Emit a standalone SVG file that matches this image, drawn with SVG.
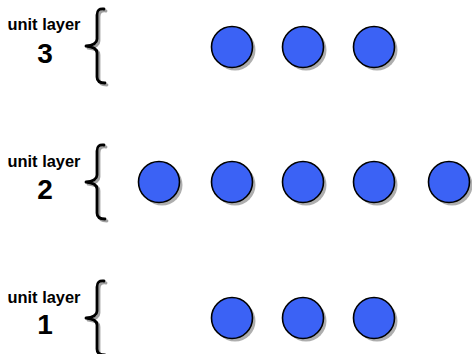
<svg xmlns="http://www.w3.org/2000/svg" xmlns:xlink="http://www.w3.org/1999/xlink" width="472" height="354" viewBox="0 0 472 354">
<style>
.lbl{font-family:"Liberation Sans",Arial,sans-serif;font-weight:bold;fill:#000;text-anchor:middle}
.t{font-size:16.5px}
.n{font-size:28px}
.br{fill:none;stroke:#000;stroke-width:2.8;stroke-linecap:round;stroke-linejoin:round}
.brs{fill:none;stroke:#a0a0a0;stroke-width:2.8;stroke-linecap:round;stroke-linejoin:round}
.c{fill:#3b62f5;stroke:#000;stroke-width:1.6}
.cs{fill:#9a9a9a;opacity:0.8}
</style>
<defs>
<path id="brace" d="M104,-37 Q97,-38 97,-31 L97,-7 Q97,-1 86,0 Q97,1 97,7 L97,31 Q97,37 105,37"/>
<g id="unit">
<circle class="cs" cx="3" cy="3" r="20.5"/>
<circle class="c" cx="0" cy="0" r="20.5"/>
</g>
</defs>
<g id="layer3">
<text class="lbl t" x="44" y="30" textLength="73" lengthAdjust="spacingAndGlyphs">unit layer</text>
<text class="lbl n" x="45" y="63">3</text>
<use xlink:href="#brace" class="brs" transform="translate(2,48)"/>
<use xlink:href="#brace" class="br" transform="translate(0,46)"/>
</g>
<g id="layer2">
<text class="lbl t" x="44" y="167" textLength="73" lengthAdjust="spacingAndGlyphs">unit layer</text>
<text class="lbl n" x="45" y="199">2</text>
<use xlink:href="#brace" class="brs" transform="translate(2,184)"/>
<use xlink:href="#brace" class="br" transform="translate(0,182)"/>
</g>
<g id="layer1">
<text class="lbl t" x="44" y="303" textLength="73" lengthAdjust="spacingAndGlyphs">unit layer</text>
<text class="lbl n" x="45" y="334">1</text>
<use xlink:href="#brace" class="brs" transform="translate(2,320)"/>
<use xlink:href="#brace" class="br" transform="translate(0,318)"/>
</g>
<g id="u3a"><use xlink:href="#unit" transform="translate(232,47)"/></g>
<g id="u3b"><use xlink:href="#unit" transform="translate(303,47)"/></g>
<g id="u3c"><use xlink:href="#unit" transform="translate(374,47)"/></g>
<g id="u2a"><use xlink:href="#unit" transform="translate(159,182)"/></g>
<g id="u2b"><use xlink:href="#unit" transform="translate(232,182)"/></g>
<g id="u2c"><use xlink:href="#unit" transform="translate(303,182)"/></g>
<g id="u2d"><use xlink:href="#unit" transform="translate(374,182)"/></g>
<g id="u2e"><use xlink:href="#unit" transform="translate(449,182)"/></g>
<g id="u1a"><use xlink:href="#unit" transform="translate(232,318)"/></g>
<g id="u1b"><use xlink:href="#unit" transform="translate(303,318)"/></g>
<g id="u1c"><use xlink:href="#unit" transform="translate(374,318)"/></g>
<g id="connectors"/>
</svg>
